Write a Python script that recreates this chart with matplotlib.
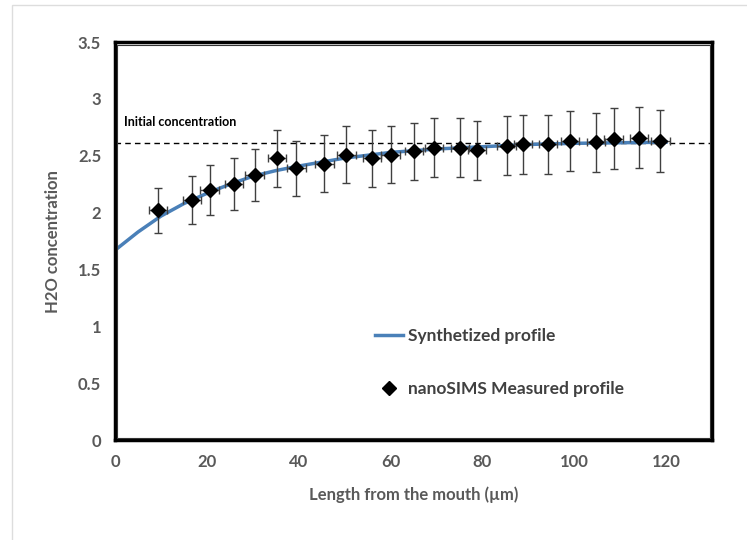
import matplotlib
matplotlib.use("Agg")
import matplotlib.pyplot as plt
from matplotlib.patches import Rectangle
from matplotlib.lines import Line2D

# Measured profile (nanoSIMS)
meas_x = [9.3, 16.7, 20.6, 25.9, 30.4, 35.3, 39.5, 45.6, 50.4, 55.9, 60.0, 65.1,
          69.5, 75.1, 78.9, 85.3, 88.8, 94.3, 99.1, 104.8, 108.6, 114.1, 118.8]
meas_y = [2.02, 2.11, 2.20, 2.25, 2.33, 2.48, 2.39, 2.43, 2.51, 2.48, 2.51, 2.54,
          2.57, 2.57, 2.55, 2.59, 2.60, 2.60, 2.63, 2.62, 2.65, 2.66, 2.63]
meas_yerr = [0.20, 0.21, 0.22, 0.23, 0.23, 0.25, 0.24, 0.25, 0.25, 0.25, 0.25, 0.25,
             0.26, 0.26, 0.26, 0.26, 0.26, 0.26, 0.26, 0.26, 0.27, 0.27, 0.27]
meas_xerr = [2.0] * len(meas_x)

# Synthetized profile
syn_x = [0, 5, 10, 15, 20, 25, 30, 35, 40, 50, 60, 70, 80, 90, 100, 110, 120]
syn_y = [1.67, 1.83, 1.97, 2.08, 2.17, 2.25, 2.32, 2.37, 2.41, 2.48, 2.53, 2.56,
         2.58, 2.60, 2.61, 2.615, 2.62]

initial_conc = 2.61

x_ticks = [0, 20, 40, 60, 80, 100, 120]
y_ticks = [0, 0.5, 1, 1.5, 2, 2.5, 3, 3.5]
y_tick_labels = ["0", "0.5", "1", "1.5", "2", "2.5", "3", "3.5"]

plt.rcParams['font.family'] = ['Lato', 'DejaVu Sans']
gray = '#595959'
line_color = '#4a80b8'

fig = plt.figure(figsize=(7.47, 5.40), dpi=100)
ax = fig.add_axes([0.154, 0.185, 0.799, 0.737])

ax.plot(syn_x, syn_y, color=line_color, lw=2.5, zorder=2)
ax.axhline(initial_conc, color='black', lw=1.0, ls=(0, (4, 3)), zorder=1)
ax.errorbar(meas_x, meas_y, yerr=meas_yerr, xerr=meas_xerr, fmt='D', color='black',
            ms=7, ecolor='#404040', elinewidth=1.0, capsize=3, capthick=1.0, zorder=3)

ax.text(2, 2.76, 'Initial concentration', fontsize=9, fontweight='bold', color='black')

ax.set_xlim(0, 130)
ax.set_ylim(0, 3.5)
ax.set_xticks(x_ticks)
ax.set_yticks(y_ticks)
ax.set_yticklabels(y_tick_labels)
ax.tick_params(length=0, labelsize=12, colors=gray, pad=10)
for lab in ax.get_xticklabels() + ax.get_yticklabels():
    lab.set_fontweight('bold')

for s in ax.spines.values():
    s.set_linewidth(2.5)
    s.set_color('black')
ax.add_patch(Rectangle((0.004, 0.006), 0.992, 0.988, transform=ax.transAxes,
                       fill=False, lw=0.8, ec='#333333', zorder=5))

ax.set_xlabel('Length from the mouth (µm)', fontsize=12, fontweight='bold', color=gray, labelpad=12)
ax.set_ylabel('H2O concentration', fontsize=12, fontweight='bold', color=gray, labelpad=12)

handles = [Line2D([], [], color=line_color, lw=2.5),
           Line2D([], [], color='black', marker='D', ms=7, ls='none')]
labels = ['Synthetized profile', 'nanoSIMS Measured profile']
leg = ax.legend(handles, labels, loc='lower left', bbox_to_anchor=(0.41, 0.07), frameon=False,
                fontsize=12.5, labelspacing=2.1, handlelength=1.6, handletextpad=0.3)
for t in leg.get_texts():
    t.set_color('#404040')
    t.set_fontweight('bold')

fig.patches.append(Rectangle((0.016, -0.01), 1.0, 1.0, transform=fig.transFigure,
                             fill=False, lw=1.0, ec='#dddddd'))

fig.savefig('out.png', dpi=100)
